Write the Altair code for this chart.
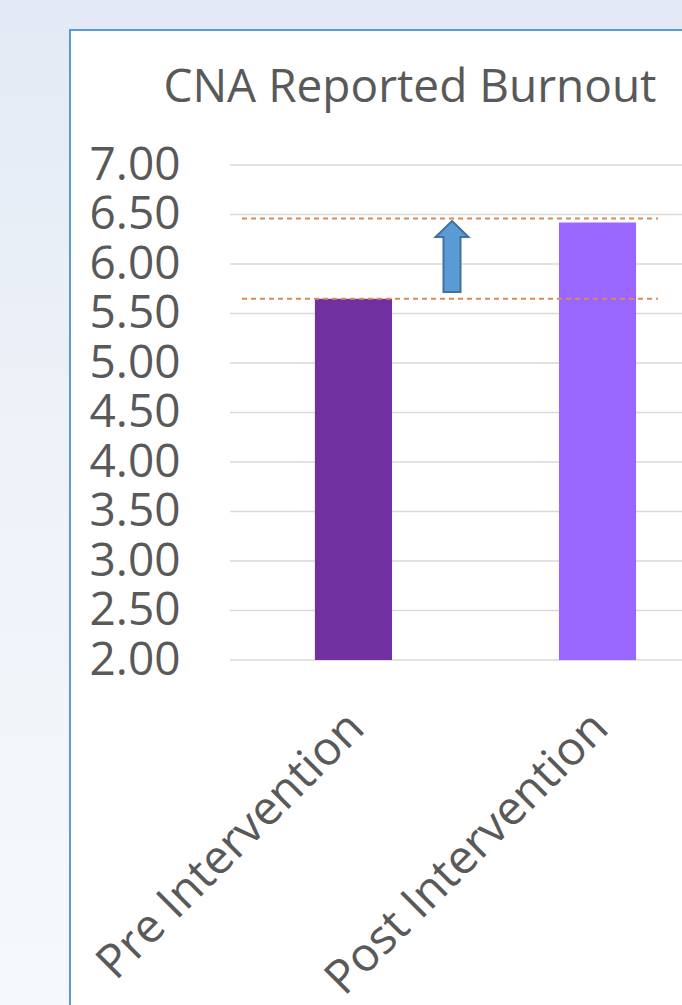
import altair as alt
import pandas as pd

# ---- data ----
categories = ["Pre Intervention", "Post Intervention"]
values = [5.65, 6.42]
bar_colors = ["#7030A0", "#9966FF"]
ref_levels = [5.65, 6.46]          # dashed orange reference lines
arrow_span = [5.72, 6.43]          # bottom / top of the blue arrow
y_ticks = [2.0, 2.5, 3.0, 3.5, 4.0, 4.5, 5.0, 5.5, 6.0, 6.5, 7.0]
title_text = ["CNA Reported Burnout"]

FONT = "Open Sans"
TXT = "#595959"
W, H = 452, 495

bars_df = pd.DataFrame({"cat": categories, "value": values, "color": bar_colors})
ref_df = pd.DataFrame({"ref": ref_levels})
grid_df = pd.DataFrame({"t": y_ticks})
arrow_df = pd.DataFrame({"mid": [sum(arrow_span) / 2]})
title_df = pd.DataFrame({"title": title_text})
one = pd.DataFrame({"k": [0]})

x_scale = alt.Scale(domain=categories, paddingInner=0.684, paddingOuter=0.268, align=0.649)
y_scale = alt.Scale(domain=[2, 7], nice=False, zero=False)

gradient = alt.LinearGradient(
    gradient="linear",
    stops=[alt.GradientStop(color="#E3EAF5", offset=0),
           alt.GradientStop(color="#EFF3F9", offset=0.5),
           alt.GradientStop(color="#F5F8FC", offset=1)],
    x1=0, x2=0, y1=0, y2=1,
)

bg = alt.Chart(one).mark_rect(fill=gradient).encode(
    x=alt.value(-230), x2=alt.value(W + 10), y=alt.value(-165), y2=alt.value(H + 345)
)
panel = alt.Chart(one).mark_rect(fill="white", stroke="#5B9BD5", strokeWidth=2).encode(
    x=alt.value(-160), x2=alt.value(W + 40), y=alt.value(-135), y2=alt.value(H + 400)
)

grid = alt.Chart(grid_df).mark_rule(color="#D9D9D9", strokeWidth=1.5).encode(
    y=alt.Y("t:Q", scale=y_scale), x=alt.value(0), x2=alt.value(W)
)

bars = alt.Chart(bars_df).mark_bar().encode(
    x=alt.X("cat:N", scale=x_scale, sort=categories,
            axis=alt.Axis(title="", labelAngle=-45, labelAlign="right", labelBaseline="top",
                          labelFontSize=47, labelFont=FONT, labelColor=TXT, labelPadding=44,
                          labelOffset=-13, labelLimit=0, labelOverlap=False,
                          domain=False, ticks=False, tickSize=0, zindex=1)),
    y=alt.Y("value:Q", scale=y_scale,
            axis=alt.Axis(title="", values=y_ticks, format=".2f", grid=False, domain=False,
                          ticks=False, tickSize=0, labelPadding=50, labelFontSize=46,
                          labelFont=FONT, labelColor=TXT, labelOverlap=False, zindex=1)),
    y2=alt.datum(2),
    color=alt.Color("color:N", scale=None),
)

refs = alt.Chart(ref_df).mark_rule(color="#DE8A55", strokeWidth=2, strokeDash=[5, 4]).encode(
    y=alt.Y("ref:Q", scale=y_scale), x=alt.value(12), x2=alt.value(428)
)

arrow_path = "M0,-1 L0.465,-0.55 L0.24,-0.55 L0.24,1 L-0.24,1 L-0.24,-0.55 L-0.465,-0.55 Z"
arrow = alt.Chart(arrow_df).mark_point(
    shape=arrow_path, size=71 * 71, filled=True, fill="#5B9BD5", stroke="#41719C",
    strokeWidth=2, opacity=1
).encode(x=alt.value(222), y=alt.Y("mid:Q", scale=y_scale))

title = alt.Chart(title_df).mark_text(
    font=FONT, fontSize=46, color=TXT, align="center", baseline="alphabetic"
).encode(text="title:N", x=alt.value(180), y=alt.value(-63))

chart = alt.layer(bg, panel, grid, bars, refs, arrow, title).properties(
    width=W, height=H,
    autosize=alt.AutoSizeParams(type="none"),
    padding={"left": 230, "top": 165, "right": 0, "bottom": 345},
).configure_view(strokeWidth=0)

chart.save("out.html", embed_options={"renderer": "svg", "actions": False})
